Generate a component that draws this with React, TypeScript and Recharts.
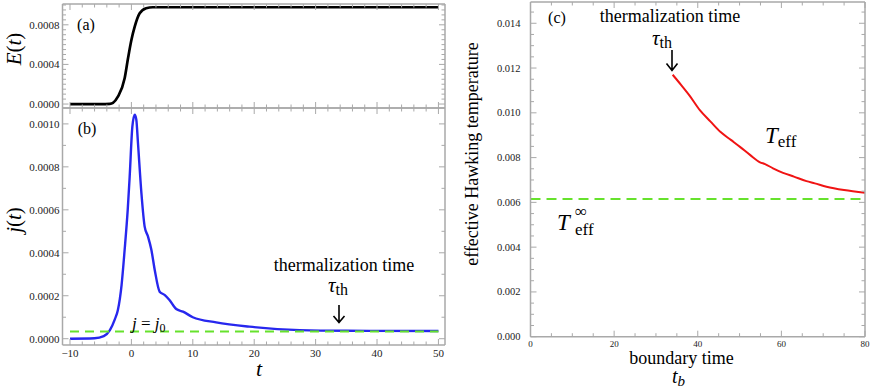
import React from 'react';
import { LineChart, Line, XAxis, YAxis } from 'recharts';

// ---------- data ----------
const eTime = [-10, -5, -3.5, -3, -2.2, -1.1, -0.55, 0, 0.54, 1.35, 2.4, 3.5, 10, 50];
const eValue = [0, 0, 0.000002, 0.000012, 0.000074, 0.00026, 0.000462, 0.000646, 0.000781, 0.000916, 0.000967, 0.000977, 0.000977, 0.000977];

const jTime = [-10, -6, -4.5, -3.5, -2.7, -2.2, -1.6, -1.1, -0.6, -0.28, 0.16, 0.54, 0.8, 1.07, 1.63, 2.16, 2.7, 3.25, 3.8, 4.6, 5.4, 6.2, 7.3, 8.4, 10, 13.8, 19.2, 27.4, 35, 50];
const jValue = [0, 0.000002, 0.000012, 0.00004, 0.00009, 0.000134, 0.00025, 0.000414, 0.0006, 0.000755, 0.000988, 0.001043, 0.00102, 0.000911, 0.000678, 0.000522, 0.000476, 0.000414, 0.00032, 0.000219, 0.000204, 0.00018, 0.000138, 0.000126, 0.0001, 0.000076, 0.000056, 0.00004, 0.000037, 0.000036];
const j0Time = [-10, 50];
const j0Value = 0.000033;

const tbTime = [34, 36, 38, 40.5, 43, 45.4, 48, 50.1, 52.5, 54.9, 56.1, 58, 60.4, 63, 66, 68, 70.8, 75, 80];
const teffValue = [0.0117, 0.01125, 0.01078, 0.01012, 0.00962, 0.00915, 0.00878, 0.00848, 0.00812, 0.00779, 0.00771, 0.00752, 0.00732, 0.00715, 0.00695, 0.00685, 0.0067, 0.00655, 0.00643];
const teffInfTime = [0, 80];
const teffInf = 0.00615;

// ---------- ticks ----------
const abXMajor = [-10, 0, 10, 20, 30, 40, 50];
const abXLabels = ['\u221210', '0', '10', '20', '30', '40', '50'];
const aYMajor = [0, 0.0004, 0.0008];
const aYLabels = ['0.0000', '0.0004', '0.0008'];
const bYMajor = [0, 0.0002, 0.0004, 0.0006, 0.0008, 0.001];
const bYLabels = ['0.0000', '0.0002', '0.0004', '0.0006', '0.0008', '0.0010'];
const cXMajor = [0, 20, 40, 60, 80];
const cXLabels = ['0', '20', '40', '60', '80'];
const cYMajor = [0, 0.002, 0.004, 0.006, 0.008, 0.01, 0.012, 0.014];
const cYLabels = ['0.000', '0.002', '0.004', '0.006', '0.008', '0.010', '0.012', '0.014'];

const steps = (from: number, to: number, step: number) => {
  const out: number[] = [];
  const n = Math.round((to - from) / step);
  for (let i = 0; i <= n; i++) out.push(+(from + i * step).toFixed(8));
  return out;
};
const abXTicks = steps(-10, 50, 2);
const aYTicks = steps(0, 0.001, 0.00005);
const bYTicks = steps(0, 0.001, 0.0001);
const cXTicks = steps(0, 80, 5);
const cYTicks = steps(0, 0.0145, 0.0005);

const FONT = '"Liberation Serif", "DejaVu Serif", "Times New Roman", serif';
const FRAME = '#a9a9a9';
const GREEN = '#66e22c';

const majorIndex = (v: number, majors: number[]) => majors.findIndex((m) => Math.abs(m - v) < 1e-9);

const makeTick = (
  orient: 'left' | 'right' | 'top' | 'bottom',
  majors: number[],
  labels: string[] | null,
  fontSize = 11,
  gap = 3
) => (props: any) => {
  const { x, y, payload } = props;
  const idx = majorIndex(payload.value, majors);
  const major = idx >= 0;
  const len = major ? 6 : 3.5;
  let x2 = x, y2 = y;
  if (orient === 'bottom') y2 = y - len;
  if (orient === 'top') y2 = y + len;
  if (orient === 'left') x2 = x + len;
  if (orient === 'right') x2 = x - len;
  let text = null;
  if (labels && major) {
    if (orient === 'left') {
      text = (
        <text x={x - gap} y={y} textAnchor="end" dominantBaseline="central" fontSize={fontSize} style={{ fontFamily: FONT }} fill="#222">
          {labels[idx]}
        </text>
      );
    } else if (orient === 'bottom') {
      text = (
        <text x={x} y={y + gap} textAnchor="middle" dominantBaseline="hanging" fontSize={fontSize} style={{ fontFamily: FONT }} fill="#222">
          {labels[idx]}
        </text>
      );
    }
  }
  return (
    <g>
      <line x1={x} y1={y} x2={x2} y2={y2} stroke={FRAME} strokeWidth={1} />
      {text}
    </g>
  );
};

const W = 871;
const H = 388;

const axisLine = { stroke: FRAME, strokeWidth: 1.5 };

const frameAxes = (
  xDomain: [number, number],
  yDomain: [number, number],
  xTicks: number[],
  yTicks: number[],
  xMajor: number[],
  yMajor: number[],
  xLabels: string[] | null,
  yLabels: string[] | null,
  xFont: number,
  yFont: number,
  yGap: number
) => [
  <XAxis key="xb" xAxisId={0} type="number" dataKey="t" domain={xDomain} allowDataOverflow ticks={xTicks} interval={0}
    height={1} tickSize={0} tickMargin={0} axisLine={axisLine} tickLine={false} orientation="bottom"
    tick={makeTick('bottom', xMajor, xLabels, xFont, 4)} />,
  <XAxis key="xt" xAxisId={1} type="number" dataKey="t" domain={xDomain} allowDataOverflow ticks={xTicks} interval={0}
    height={1} tickSize={0} tickMargin={0} axisLine={axisLine} tickLine={false} orientation="top"
    tick={makeTick('top', xMajor, null)} />,
  <YAxis key="yl" yAxisId={0} type="number" domain={yDomain} allowDataOverflow ticks={yTicks} interval={0}
    width={1} tickSize={0} tickMargin={0} axisLine={axisLine} tickLine={false} orientation="left"
    tick={makeTick('left', yMajor, yLabels, yFont, yGap)} />,
  <YAxis key="yr" yAxisId={1} type="number" domain={yDomain} allowDataOverflow ticks={yTicks} interval={0}
    width={1} tickSize={0} tickMargin={0} axisLine={axisLine} tickLine={false} orientation="right"
    tick={makeTick('right', yMajor, null)} />,
];

// plot box helper: margins shrink by the 1px axis bands
const box = (left: number, top: number, right: number, bottom: number) => ({
  left: left - 1,
  top: top - 1,
  right: W - right - 1,
  bottom: H - bottom - 1,
});

export default function App() {
  const eData = eTime.map((t, i) => ({ t, v: eValue[i] }));
  const jData = jTime.map((t, i) => ({ t, v: jValue[i] }));
  const j0Data = j0Time.map((t) => ({ t, v: j0Value }));
  const tData = tbTime.map((t, i) => ({ t, v: teffValue[i] }));
  const tInfData = teffInfTime.map((t) => ({ t, v: teffInf }));

  const abX: [number, number] = [-11.22, 51.07];
  const aY: [number, number] = [-0.00004, 0.00101];
  const bY: [number, number] = [-0.0000293, 0.001074];
  const cX: [number, number] = [0, 80];
  const cY: [number, number] = [0, 0.01495];

  const abs: React.CSSProperties = { position: 'absolute', left: 0, top: 0 };

  return (
    <div style={{ position: 'absolute', left: 0, top: 0, width: W, height: H, background: '#fff', overflow: 'hidden', fontFamily: FONT }}>
      <div style={abs}>
        <LineChart width={W} height={H} margin={box(62.5, 4, 445, 108)}>
          {frameAxes(abX, aY, abXTicks, aYTicks, abXMajor, aYMajor, null, aYLabels, 11, 11, 3)}
          <Line data={eData} dataKey="v" type="monotone" stroke="#000" strokeWidth={2.7} dot={false} isAnimationActive={false} />
        </LineChart>
      </div>
      <div style={abs}>
        <LineChart width={W} height={H} margin={box(62.5, 108, 445, 345)}>
          {frameAxes(abX, bY, abXTicks, bYTicks, abXMajor, bYMajor, abXLabels, bYLabels, 11, 11, 3)}
          <Line data={jData} dataKey="v" type="monotone" stroke="#2727ee" strokeWidth={2.4} dot={false} isAnimationActive={false} />
          <Line data={j0Data} dataKey="v" type="linear" stroke={GREEN} strokeWidth={2} strokeDasharray="9 6" dot={false} isAnimationActive={false} />
        </LineChart>
      </div>
      <div style={abs}>
        <LineChart width={W} height={H} margin={box(530.5, 2, 865, 336.7)}>
          {frameAxes(cX, cY, cXTicks, cYTicks, cXMajor, cYMajor, cXLabels, cYLabels, 9, 10.5, 10)}
          <Line data={tInfData} dataKey="v" type="linear" stroke={GREEN} strokeWidth={2} strokeDasharray="10 6" dot={false} isAnimationActive={false} />
          <Line data={tData} dataKey="v" type="monotone" stroke="#f01414" strokeWidth={2} dot={false} isAnimationActive={false} />
        </LineChart>
      </div>
      <svg width={W} height={H} style={{ position: 'absolute', left: 0, top: 0, pointerEvents: 'none', fontFamily: FONT }} fill="#000">
        <text x={86} y={24} fontSize={16} textAnchor="middle" dominantBaseline="central">(a)</text>
        <text x={87} y={128} fontSize={16} textAnchor="middle" dominantBaseline="central">(b)</text>
        <text x={557} y={17} fontSize={16} textAnchor="middle" dominantBaseline="central">(c)</text>

        <text transform="translate(14,49) rotate(-90)" fontSize={21} textAnchor="middle" dominantBaseline="central">
          <tspan fontStyle="italic">E</tspan>(<tspan fontStyle="italic">t</tspan>)
        </text>
        <text transform="translate(14,220) rotate(-90)" fontSize={21} textAnchor="middle" dominantBaseline="central">
          <tspan fontStyle="italic">j</tspan>(<tspan fontStyle="italic">t</tspan>)
        </text>
        <text x={259} y={376} fontSize={22} fontStyle="italic" textAnchor="middle">t</text>

        <text x={344} y={265} fontSize={18} textAnchor="middle" dominantBaseline="central">thermalization time</text>
        <text x={328} y={292} fontSize={21}>
          <tspan fontStyle="italic">τ</tspan><tspan fontSize={16} dy={3}>th</tspan>
        </text>
        <path d="M339 305 L339 322 M333.5 316 L339 322.5 L344.5 316" stroke="#000" strokeWidth={1.6} fill="none" />
        <text x={132} y={329} fontSize={17}>
          <tspan fontStyle="italic">j</tspan> = <tspan fontStyle="italic">j</tspan><tspan fontSize={12} dy={3}>0</tspan>
        </text>

        <text x={670} y={16} fontSize={18} textAnchor="middle" dominantBaseline="central">thermalization time</text>
        <text x={652} y={45} fontSize={21}>
          <tspan fontStyle="italic">τ</tspan><tspan fontSize={16} dy={3}>th</tspan>
        </text>
        <path d="M672 50 L672 70 M666.5 63.5 L672 70.5 L677.5 63.5" stroke="#000" strokeWidth={1.6} fill="none" />

        <text x={765} y={143} fontSize={23}>
          <tspan fontStyle="italic">T</tspan><tspan fontSize={17} dy={4}>eff</tspan>
        </text>
        <text x={557} y={230} fontSize={23} fontStyle="italic">T</text>
        <text x={575} y={217} fontSize={17}>∞</text>
        <text x={575} y={235} fontSize={17}>eff</text>

        <text transform="translate(472,154) rotate(-90)" fontSize={18} textAnchor="middle" dominantBaseline="central">effective Hawking temperature</text>
        <text x={681.5} y={358} fontSize={18} textAnchor="middle" dominantBaseline="central">boundary time</text>
        <text x={672} y={383} fontSize={20}>
          <tspan fontStyle="italic">t</tspan><tspan fontSize={15} fontStyle="italic" dy={3}>b</tspan>
        </text>
      </svg>
    </div>
  );
}
